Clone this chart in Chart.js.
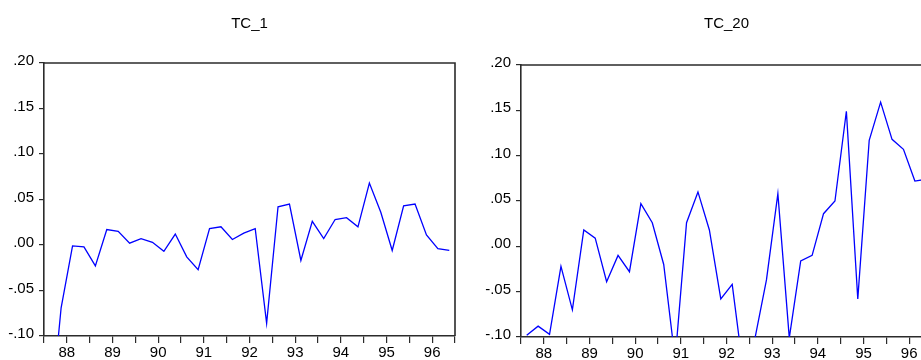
<!DOCTYPE html>
<html><head><meta charset="utf-8">
<script src="https://cdn.jsdelivr.net/npm/chart.js@4.4.1/dist/chart.umd.min.js"></script>
<style>
html,body{margin:0;padding:0;background:#fff;}
#wrap{position:relative;width:921px;height:360px;overflow:hidden;background:#fff;}
canvas{position:absolute;top:0;}
</style></head><body>
<div id="wrap">
<canvas id="c1" width="480" height="360" style="left:0px;width:480px;height:360px"></canvas>
<canvas id="c2" width="480" height="360" style="left:480px;width:480px;height:360px"></canvas>
</div>
<script>
// Quarterly observations 1988Q1 - 1996Q4
const quarters = [
  "1988Q1","1988Q2","1988Q3","1988Q4","1989Q1","1989Q2","1989Q3","1989Q4",
  "1990Q1","1990Q2","1990Q3","1990Q4","1991Q1","1991Q2","1991Q3","1991Q4",
  "1992Q1","1992Q2","1992Q3","1992Q4","1993Q1","1993Q2","1993Q3","1993Q4",
  "1994Q1","1994Q2","1994Q3","1994Q4","1995Q1","1995Q2","1995Q3","1995Q4",
  "1996Q1","1996Q2","1996Q3","1996Q4"
];
const yearLabels = ["88","89","90","91","92","93","94","95","96"];
const tc1 = [
  -0.200,-0.069,-0.001,-0.002,-0.023, 0.017, 0.015, 0.002,
   0.007, 0.003,-0.007, 0.012,-0.013,-0.027, 0.018, 0.020,
   0.006, 0.013, 0.018,-0.086, 0.042, 0.045,-0.017, 0.026,
   0.007, 0.028, 0.030, 0.020, 0.068, 0.036,-0.006, 0.043,
   0.045, 0.011,-0.004,-0.006
];
const tc20 = [
  -0.098,-0.088,-0.097,-0.022,-0.070, 0.018, 0.009,-0.039,
  -0.010,-0.028, 0.047, 0.026,-0.020,-0.125, 0.026, 0.060,
   0.018,-0.058,-0.042,-0.140,-0.101,-0.037, 0.058,-0.101,
  -0.016,-0.010, 0.036, 0.050, 0.149,-0.058, 0.117, 0.159,
   0.118, 0.107, 0.072, 0.074
];
const yMin = -0.10, yMax = 0.20, yStep = 0.05;

const FONT = "'Liberation Sans', Arial, sans-serif";
const AXIS = '#2b2b2b';

function fmt(v){
  const r = Math.round(v*100)/100;
  const s = Math.abs(r).toFixed(2).replace(/^0/, '');
  return (r < 0 ? '-' : '') + s;
}

const framePlugin = {
  id: 'frame',
  afterDraw(chart){
    const {ctx, chartArea: a} = chart;
    ctx.save();
    ctx.strokeStyle = AXIS; ctx.lineWidth = 1.6;
    ctx.beginPath();
    ctx.moveTo(a.left, a.top); ctx.lineTo(a.right, a.top); ctx.lineTo(a.right, a.bottom);
    ctx.stroke();
    ctx.restore();
  }
};

function makeChart(id, title, values, g){
  const pts = values.map((v, i) => ({x: i + 0.5, y: v}));
  return new Chart(document.getElementById(id), {
    type: 'line',
    data: { datasets: [{ data: pts, borderColor: '#0000ff', borderWidth: 1.3,
      pointRadius: 0, tension: 0, fill: false, clip: 0 }] },
    options: {
      responsive: false, animation: false, devicePixelRatio: 1,
      layout: { padding: { left: 0, right: g.padRight, top: 0, bottom: 0 } },
      plugins: {
        legend: { display: false }, tooltip: { enabled: false },
        title: { display: true, text: title, fullSize: false, color: '#000',
          font: { family: FONT, size: 15, weight: 'normal' },
          padding: { top: 15, bottom: g.top - 33 } }
      },
      scales: {
        x: {
          type: 'linear', min: 0, max: quarters.length,
          afterFit: s => { s.height = 360 - g.bottom; },
          border: { display: true, color: AXIS, width: 1.6 },
          grid: { display: true, drawOnChartArea: false, drawTicks: true, tickLength: 7, color: AXIS, lineWidth: 1.2 },
          ticks: { stepSize: 2, autoSkip: false, maxRotation: 0, padding: 1, color: '#000',
            font: { family: FONT, size: 15 },
            callback: v => (v % 4 === 2) ? yearLabels[(v - 2) / 4] : '' }
        },
        y: {
          min: yMin, max: yMax,
          afterFit: s => { s.width = g.left; },
          border: { display: true, color: AXIS, width: 1.6 },
          grid: { display: true, drawOnChartArea: false, drawTicks: true, tickLength: 5, color: AXIS, lineWidth: 1.2 },
          ticks: { stepSize: yStep, padding: 5, color: '#000', labelOffset: -2,
            font: { family: FONT, size: 15 }, callback: v => fmt(v) }
        }
      }
    },
    plugins: [framePlugin]
  });
}

makeChart('c1', 'TC_1', tc1, { left: 44, padRight: 480 - 455, top: 63, bottom: 336 });
makeChart('c2', 'TC_20', tc20, { left: 41, padRight: 480 - 452, top: 65, bottom: 337 });
</script>
</body></html>
